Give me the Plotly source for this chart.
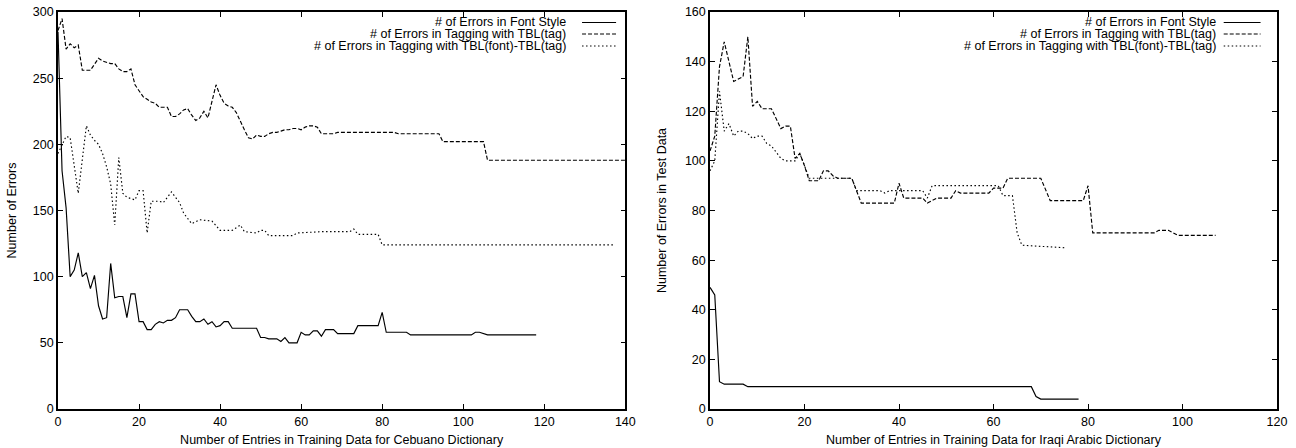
import plotly.graph_objects as go

# ---------------- Left panel: Cebuano ----------------
ceb_font_x = [0,1,2,3,4,5,6,7,8,9,10,11,12,13,14,15,16,17,18,19,20,21,22,23,24,25,26,27,28,29,30,31,32,33,34,35,36,37,38,39,40,41,42,43,
              49,50,51,52,54,55,56,57,59,60,61,62,63,64,65,66,68,69,73,74,79,80,81,86,87,102,103,104,106,118]
ceb_font_y = [285,180,152,100,105,118,100,103,91,101,78,68,69,110,84,85,85,69,87,87,66,66,60,60,64,66,65,67,67,69,75,75,75,70,66,66,68,64,66,62,63,66,66,61,
              61,54,54,53,53,51,54,50,50,58,56,56,59,59,55,60,60,57,57,63,63,73,58,58,56,56,58,58,56,56]

ceb_tag_x = [0,1,2,3,4,5,6,8,10,11,13,14,15,16,17,18,19,20,21,22,23,24,25,27,28,29,30,31,32,33,34,35,36,37,39,40,41,42,43,44,45,46,47,48,49,50,
             51,52,53,54,55,56,57,58,59,60,61,62,63,64,65,68,69,83,84,94,95,105,106,140]
ceb_tag_y = [286,295,272,276,273,275,256,256,265,263,261,261,257,255,255,257,245,240,236,234,232,231,228,228,221,221,223,226,227,222,218,220,225,220,245,237,231,229,228,224,217,211,205,204,207,206,
             206,208,209,209,210,211,211,212,212,211,213,214,214,213,208,208,209,209,208,208,202,202,188,188]

ceb_fonttag_x = [0,1,2,3,5,7,8,9,10,11,12,13,14,15,16,17,19,20,21,22,23,25,26,28,30,31,33,35,38,40,43,45,46,49,50,51,52,58,59,65,72,73,74,79,80,137]
ceb_fonttag_y = [193,199,206,205,163,214,207,203,200,193,183,170,139,190,163,160,158,165,165,133,157,157,156,164,156,148,140,143,142,135,135,139,134,133,135,135,131,131,133,134,134,136,132,132,124,124]

# ---------------- Right panel: Iraqi Arabic ----------------
ira_font_x = [0,1,2,3,7,8,68,69,70,78]
ira_font_y = [49,46,11,10,10,9,9,5,4,4]

ira_tag_x = [0,1,2,3,4,5,7,8,9,10,11,13,15,16,17,18,19,20,21,23,24,25,26,27,30,32,39,40,41,45,46,47,48,51,52,53,59,60,62,63,70,72,79,80,81,94,95,97,99,107]
ira_tag_y = [104,110,138,148,140,132,134,150,122,124,121,121,113,114,114,101,103,98,92,92,96,96,94,93,93,83,83,91,85,85,83,84,85,85,88,87,87,89,89,93,93,84,84,90,71,71,72,72,70,70]

ira_fonttag_x = [0,1,2,3,4,5,6,7,8,9,10,11,12,13,15,16,18,19,21,30,31,36,37,38,45,46,47,61,62,64,65,66,75]
ira_fonttag_y = [96,100,128,112,115,110,112,112,111,109,110,110,107,106,101,100,100,103,93,93,88,88,87,88,88,85,90,90,86,86,71,66,65]

series_names = ["# of Errors in Font Style",
                "# of Errors in Tagging with TBL(tag)",
                "# of Errors in Tagging with TBL(font)-TBL(tag)"]
dashes = ["solid", "4px,2px", "1.5px,2.5px"]

FONT = "Liberation Sans, Arial, Helvetica, sans-serif"
FS = 12.5

fig = go.Figure()
left = [(ceb_font_x, ceb_font_y), (ceb_tag_x, ceb_tag_y), (ceb_fonttag_x, ceb_fonttag_y)]
right = [(ira_font_x, ira_font_y), (ira_tag_x, ira_tag_y), (ira_fonttag_x, ira_fonttag_y)]
for i, (xs, ys) in enumerate(left):
    fig.add_trace(go.Scatter(x=xs, y=ys, mode="lines", name=series_names[i], showlegend=False,
                             line=dict(color="black", width=1.15, dash=dashes[i]), xaxis="x", yaxis="y"))
for i, (xs, ys) in enumerate(right):
    fig.add_trace(go.Scatter(x=xs, y=ys, mode="lines", name=series_names[i], showlegend=False,
                             line=dict(color="black", width=1.15, dash=dashes[i]), xaxis="x2", yaxis="y2"))

axis_common = dict(ticks="inside", ticklen=5, tickwidth=1, tickcolor="black", showline=True, linecolor="black",
                   linewidth=1.6, mirror="ticks", showgrid=False, zeroline=False, automargin=False,
                   tickfont=dict(family=FONT, size=FS, color="black"))

fig.update_layout(
    width=1296, height=448, margin=dict(l=58, r=19, t=12, b=39),
    paper_bgcolor="white", plot_bgcolor="white",
    font=dict(family=FONT, size=FS, color="black"),
    xaxis=dict(domain=[0, 0.4654], range=[0, 140], tick0=0, dtick=20, anchor="y",
               title=dict(text="Number of Entries in Training Data for Cebuano Dictionary", standoff=7,
                          font=dict(family=FONT, size=FS)), **axis_common),
    yaxis=dict(domain=[0, 1], range=[0, 300], tick0=0, dtick=50, anchor="x",
               title=dict(text="Number of Errors", standoff=13, font=dict(family=FONT, size=FS)), **axis_common),
    xaxis2=dict(domain=[0.5349, 1], range=[0, 120], tick0=0, dtick=20, anchor="y2",
                title=dict(text="Number of Entries in Training Data for Iraqi Arabic Dictionary", standoff=7,
                           font=dict(family=FONT, size=FS)), **axis_common),
    yaxis2=dict(domain=[0, 1], range=[0, 160], tick0=0, dtick=20, anchor="x2",
                title=dict(text="Number of Errors in Test Data", standoff=16, font=dict(family=FONT, size=FS)),
                **axis_common),
)

# gnuplot-style key: right-aligned text with line sample on its right
legend_layout = [
    ("x domain", "y domain", 0.8966, 0.9237, 0.9837),
    ("x2 domain", "y2 domain", 0.894, 0.906, 0.971),
]
row_y = [0.9736, 0.9446, 0.9144]
for xref, yref, tx, s0, s1 in legend_layout:
    for i, name in enumerate(series_names):
        fig.add_annotation(xref=xref, yref=yref, x=tx, y=row_y[i], text=name, showarrow=False,
                           xanchor="right", yanchor="middle", borderpad=0,
                           font=dict(family=FONT, size=12.5, color="black"))
        fig.add_shape(type="line", xref=xref, yref=yref, x0=s0, x1=s1, y0=row_y[i], y1=row_y[i],
                      line=dict(color="black", width=1.15, dash=dashes[i]))

fig.write_html("out.html", config={"displayModeBar": False},
               post_script="document.body.style.margin='0px';")
